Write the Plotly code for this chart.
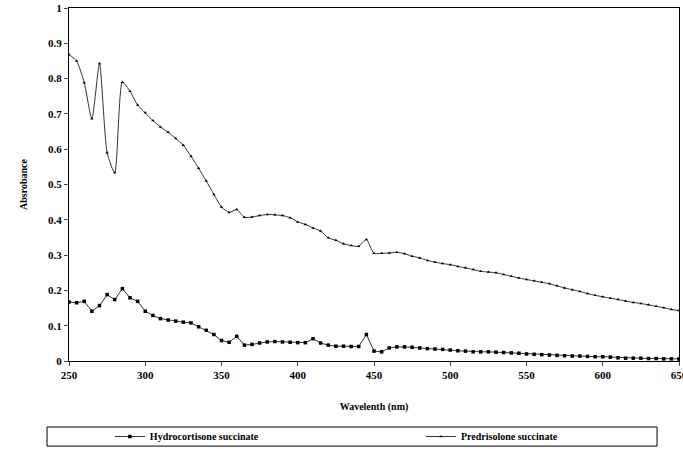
import plotly.graph_objects as go

wavelength = list(range(250, 655, 5))

predrisolone = [0.868, 0.850, 0.788, 0.686, 0.843, 0.590, 0.533, 0.790, 0.764, 0.725,
                0.703, 0.681, 0.663, 0.648, 0.630, 0.611, 0.580, 0.546, 0.510, 0.472,
                0.436, 0.421, 0.429, 0.407, 0.408, 0.412, 0.415, 0.414, 0.412, 0.406,
                0.394, 0.387, 0.377, 0.368, 0.349, 0.342, 0.332, 0.327, 0.325, 0.344,
                0.305, 0.305, 0.306, 0.308, 0.304, 0.297, 0.292, 0.285, 0.280, 0.276,
                0.273, 0.268, 0.264, 0.259, 0.254, 0.252, 0.250, 0.245, 0.240, 0.235,
                0.231, 0.227, 0.223, 0.219, 0.213, 0.207, 0.202, 0.197, 0.191, 0.186,
                0.182, 0.178, 0.174, 0.170, 0.166, 0.163, 0.159, 0.155, 0.151, 0.146,
                0.143]

hydrocortisone = [0.167, 0.165, 0.169, 0.141, 0.157, 0.188, 0.174, 0.205, 0.179, 0.169,
                  0.141, 0.129, 0.120, 0.116, 0.113, 0.110, 0.108, 0.097, 0.087, 0.075,
                  0.058, 0.053, 0.070, 0.045, 0.047, 0.051, 0.054, 0.055, 0.054, 0.053,
                  0.052, 0.052, 0.063, 0.051, 0.045, 0.042, 0.042, 0.041, 0.041, 0.075,
                  0.028, 0.026, 0.037, 0.040, 0.040, 0.039, 0.037, 0.035, 0.034, 0.033,
                  0.031, 0.029, 0.028, 0.026, 0.026, 0.026, 0.025, 0.024, 0.023, 0.022,
                  0.020, 0.019, 0.018, 0.017, 0.016, 0.015, 0.014, 0.014, 0.013, 0.012,
                  0.012, 0.011, 0.009, 0.008, 0.008, 0.008, 0.007, 0.007, 0.006, 0.006,
                  0.006]

x_ticks = [250, 300, 350, 400, 450, 500, 550, 600, 650]
x_labels = ["250", "300", "350", "400", "450", "500", "550", "600", "650"]
y_ticks = [0, 0.1, 0.2, 0.3, 0.4, 0.5, 0.6, 0.7, 0.8, 0.9, 1]
y_labels = ["0", "0.1", "0.2", "0.3", "0.4", "0.5", "0.6", "0.7", "0.8", "0.9", "1"]

font_serif = "Liberation Serif, Times New Roman, serif"

fig = go.Figure()
fig.add_trace(go.Scatter(
    x=wavelength, y=hydrocortisone, name="<b>Hydrocortisone succinate</b>",
    mode="lines+markers", legend="legend",
    line=dict(color="#333333", width=1),
    marker=dict(symbol="square", size=3.5, color="black"),
))
fig.add_trace(go.Scatter(
    x=wavelength, y=predrisolone, name="<b>Predrisolone succinate</b>",
    mode="lines+markers", legend="legend2",
    line=dict(color="#333333", width=1, shape="spline", smoothing=0.6),
    marker=dict(symbol="triangle-up", size=3, color="black"),
))

legend_common = dict(
    orientation="h", y=-0.214, xanchor="left", yanchor="middle",
    font=dict(family=font_serif, size=10, color="black"),
    bgcolor="rgba(0,0,0,0)", itemwidth=30,
)

fig.update_layout(
    width=683, height=449,
    margin=dict(l=69, r=4, t=8, b=88, autoexpand=False),
    paper_bgcolor="white", plot_bgcolor="white",
    font=dict(family=font_serif, size=11, color="black"),
    showlegend=True,
    legend=dict(x=0.067, **legend_common),
    legend2=dict(x=0.577, **legend_common),
    shapes=[dict(type="rect", xref="paper", yref="paper",
                 x0=-0.036, x1=0.964, y0=-0.241, y1=-0.187,
                 line=dict(color="black", width=1), fillcolor="rgba(0,0,0,0)")],
)

fig.update_xaxes(
    range=[250, 650], tickvals=x_ticks, ticktext=["<b>%s</b>" % t for t in x_labels],
    ticks="outside", ticklen=4, automargin=False, ticklabeloverflow="allow",
    showline=True, linecolor="black", linewidth=1, mirror=True,
    showgrid=False, zeroline=False,
    tickfont=dict(family=font_serif, size=11, color="black"),
    title=dict(text="<b>Wavelenth (nm)</b>", font=dict(family=font_serif, size=10), standoff=22),
)
fig.update_yaxes(
    range=[0, 1], tickvals=y_ticks, ticktext=["<b>%s</b>" % t for t in y_labels],
    ticks="outside", ticklen=4, automargin=False,
    showline=True, linecolor="black", linewidth=1, mirror=True,
    showgrid=False, zeroline=False,
    tickfont=dict(family=font_serif, size=11, color="black"),
    title=dict(text="<b>Absrobance</b>", font=dict(family=font_serif, size=10), standoff=18),
)

fig.write_html("out.html", config={"displayModeBar": False},
               post_script="document.body.style.margin='0';")
